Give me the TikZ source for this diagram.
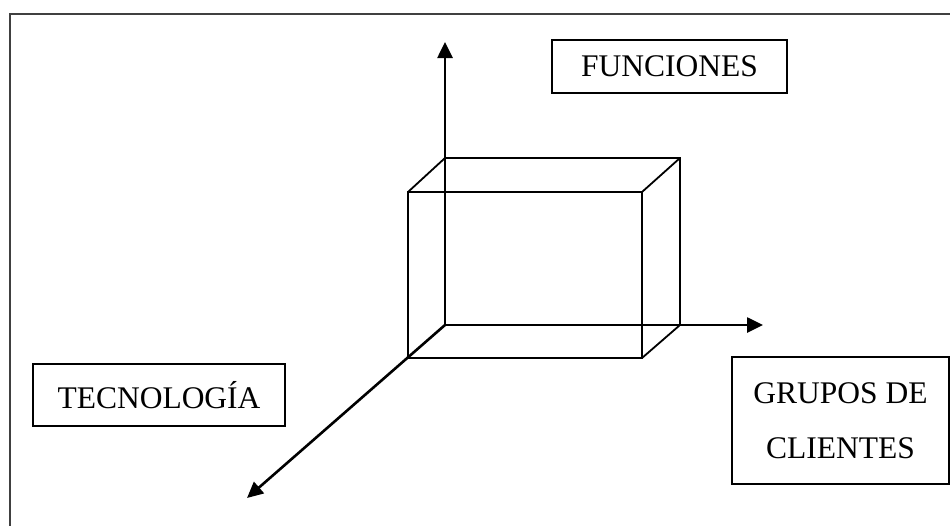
\documentclass[tikz,border=0pt]{standalone}
\usepackage{fontspec}
\setmainfont{Liberation Serif}
\usetikzlibrary{arrows.meta}

\tikzset{
	labelbox/.style={draw, line width=1.6pt, inner sep=0pt, align=center,
		font=\fontsize{31.5}{55}\selectfont},
	axis/.style={line width=2.6pt, -{Triangle[length=16pt,width=15pt]}},
	edge/.style={line width=1.8pt}
}

\begin{document}
\begin{tikzpicture}[x=1pt,y=-1pt]

		\useasboundingbox (0,0) rectangle (950,525);

		% page frame
		\draw [line width=1.8pt, black!75] (10,530)--(10,14)--(955,14);

		\coordinate (origin) at (445,325);
		\coordinate (up)     at (445,42);
		\coordinate (right)  at (763,325);
		\coordinate (down)   at (247,498);

		% back face
		\coordinate (b1) at (445,158);
		\coordinate (b2) at (680,158);
		\coordinate (b3) at (680,325);
		% front face
		\coordinate (f1) at (408,192);
		\coordinate (f2) at (642,192);
		\coordinate (f3) at (642,358);
		\coordinate (f4) at (408,358);

		\draw [edge] (f1)--(f2)--(f3)--(f4)--cycle;
		\draw [edge] (origin)--(b1)--(b2)--(b3)--cycle;
		\draw [edge] (f1)--(b1);
		\draw [edge] (f2)--(b2);
		\draw [edge] (f3)--(b3);

		\draw [axis] (origin)--(up);
		\draw [axis] (origin)--(right);
		\draw [axis] (origin)--(down);

		\node [labelbox, minimum width=235pt, minimum height=53pt] (funciones) at (669.5,66.5) {FUNCIONES};
		\node [labelbox, minimum width=252pt, minimum height=62pt] (tecnologia) at (159,395) {TECNOLOGÍA};
		\node [labelbox, minimum width=217pt, minimum height=127pt] (grupos) at (840.5,420.5) {GRUPOS DE\\CLIENTES};

	\end{tikzpicture}
\end{document}
